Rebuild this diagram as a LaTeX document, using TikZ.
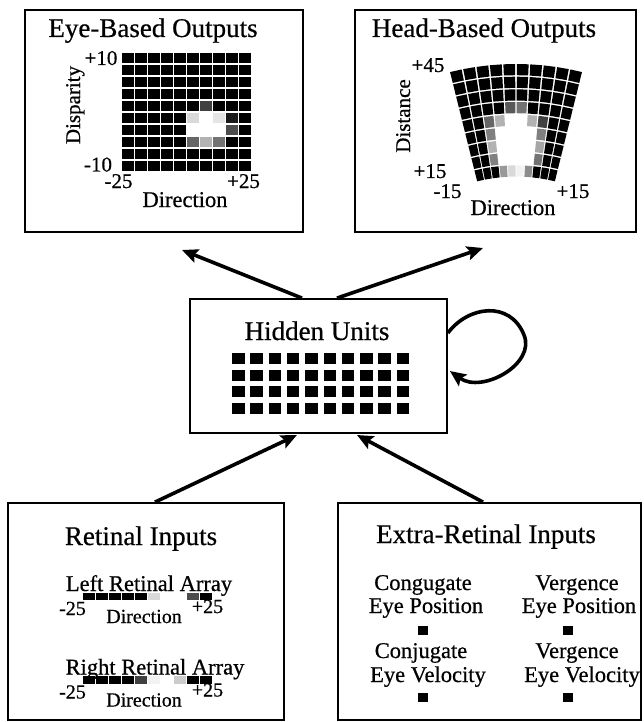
\documentclass[tikz,border=0pt]{standalone}
\usepackage{fontspec}
\setmainfont{Liberation Serif}[RawFeature={embolden=0.6}]
\usetikzlibrary{arrows.meta,calc}
\newcommand\setcell[4]{\expandafter\def\csname #1#2-#3\endcsname{#4}}
% eye-based grid grey levels (row-col, 0-based)
\setcell{eg}{4}{6}{75}
\setcell{eg}{5}{5}{15}\setcell{eg}{5}{6}{0}\setcell{eg}{5}{7}{10}\setcell{eg}{5}{8}{90}
\setcell{eg}{6}{5}{0}\setcell{eg}{6}{6}{0}\setcell{eg}{6}{7}{0}\setcell{eg}{6}{8}{70}
\setcell{eg}{7}{5}{60}\setcell{eg}{7}{6}{30}\setcell{eg}{7}{7}{55}
% head-based fan grey levels
\setcell{fg}{3}{4}{65}\setcell{fg}{3}{5}{55}
\setcell{fg}{4}{2}{60}\setcell{fg}{4}{3}{30}\setcell{fg}{4}{4}{0}\setcell{fg}{4}{5}{0}\setcell{fg}{4}{6}{30}\setcell{fg}{4}{7}{75}
\setcell{fg}{5}{2}{50}\setcell{fg}{5}{3}{0}\setcell{fg}{5}{4}{0}\setcell{fg}{5}{5}{0}\setcell{fg}{5}{6}{0}\setcell{fg}{5}{7}{50}
\setcell{fg}{6}{2}{30}\setcell{fg}{6}{3}{0}\setcell{fg}{6}{4}{0}\setcell{fg}{6}{5}{0}\setcell{fg}{6}{6}{0}\setcell{fg}{6}{7}{35}
\setcell{fg}{7}{2}{50}\setcell{fg}{7}{3}{0}\setcell{fg}{7}{4}{0}\setcell{fg}{7}{5}{0}\setcell{fg}{7}{6}{0}\setcell{fg}{7}{7}{55}
\setcell{fg}{8}{3}{40}\setcell{fg}{8}{4}{15}\setcell{fg}{8}{5}{5}\setcell{fg}{8}{6}{45}
% retinal arrays
\setcell{la}{0}{5}{15}\setcell{la}{0}{6}{0}\setcell{la}{0}{7}{0}\setcell{la}{0}{8}{70}
\setcell{la}{1}{4}{75}\setcell{la}{1}{5}{5}\setcell{la}{1}{6}{0}\setcell{la}{1}{7}{20}
\begin{document}
\begin{tikzpicture}[x=1pt,y=-1pt,
 box/.style={draw,line width=1.8pt,inner sep=0pt},
 ttl/.style={font=\fontsize{27}{27}\selectfont,anchor=base,inner sep=0pt},
 lbl/.style={font=\fontsize{22.5}{22.5}\selectfont,anchor=base,inner sep=0pt},
 tick/.style={font=\fontsize{21}{21}\selectfont,anchor=base,inner sep=0pt},
 rlbl/.style={font=\fontsize{21}{21}\selectfont,anchor=base,inner sep=0pt,rotate=90},
 sml/.style={font=\fontsize{20}{20}\selectfont,anchor=base,inner sep=0pt},
 arr/.style={line width=3.6pt,-{Stealth[length=16pt,width=14pt,inset=3pt]}}]
\useasboundingbox (0,0) rectangle (643,722);

% boxes
\node[box,minimum width=278pt,minimum height=222pt] (eye) at (164,121) {};
\node[box,minimum width=281pt,minimum height=222pt] (head) at (495.5,121) {};
\node[box,minimum width=257pt,minimum height=134pt] (hid) at (318.5,366) {};
\node[box,minimum width=276pt,minimum height=217pt] (ret) at (146,611.5) {};
\node[box,minimum width=303pt,minimum height=217pt] (extra) at (489.5,611.5) {};

% eye-based outputs
\node[ttl] (eyet) at (153,37) {Eye-Based Outputs};
\foreach \i in {0,...,9}{\foreach \j in {0,...,9}{
  \ifcsname eg\i-\j\endcsname\edef\mycol{black!\csname eg\i-\j\endcsname}\else\def\mycol{black}\fi
  \fill[\mycol] (122+\j*13,53+\i*12) rectangle ++(11.5,10.5);
}}
\node[tick] (ep10) at (101,65) {+10};
\node[tick] (em10) at (98,171.5) {-10};
\node[tick] (em25) at (118.5,188) {-25};
\node[tick] (ep25) at (243.5,188) {+25};
\node[lbl] (edir) at (185,207) {Direction};
\node[rlbl] (edisp) at (80,105) {Disparity};

% head-based outputs
\node[ttl] (headt) at (484,37) {Head-Based Outputs};
\begin{scope}[shift={(516,338)}]
\foreach \i in {0,...,8}{\foreach \j in {0,...,9}{
  \ifcsname fg\i-\j\endcsname\edef\mycol{black!\csname fg\i-\j\endcsname}\else\def\mycol{black}\fi
  \pgfmathsetmacro\myro{274-\i*12.67}
  \pgfmathsetmacro\myri{\myro-11.2}
  \pgfmathsetmacro\myaa{-104.1+\j*2.82+0.17}
  \pgfmathsetmacro\myab{\myaa+2.48}
  \fill[\mycol] (\myaa:\myri) -- (\myaa:\myro) -- (\myab:\myro) -- (\myab:\myri) -- cycle;
}}
\end{scope}
\node[tick] (hp45) at (428,72) {+45};
\node[tick] (hp15) at (430,178) {+15};
\node[tick] (hm15) at (447.5,198) {-15};
\node[tick] (hp15r) at (573,198) {+15};
\node[lbl] (hdir) at (513,215) {Direction};
\node[rlbl] (hdist) at (410,116) {Distance};

% hidden units
\node[ttl] (hidt) at (317,340) {Hidden Units};
\foreach \i in {0,...,3}{\foreach \j in {0,...,9}{
  \fill (232+\j*18.3,353+\i*16.7) rectangle ++(12.5,11);
}}

% retinal inputs
\node[ttl] (rett) at (141,545) {Retinal Inputs};
\node[lbl] (lra) at (149,591) {Left Retinal Array};
\node[lbl] (rra) at (155,674.5) {Right Retinal Array};
\foreach \k/\yy in {0/592.5,1/676}{\foreach \j in {0,...,9}{
  \ifcsname la\k-\j\endcsname\edef\mycol{black!\csname la\k-\j\endcsname}\else\def\mycol{black}\fi
  \fill[\mycol] (83+\j*13,\yy) rectangle ++(11.5,7.5);
}}
\node[sml] (lm25) at (72.5,615) {-25};
\node[sml] (ldir) at (144,623) {Direction};
\node[sml] (lp25) at (207.5,613) {+25};
\node[sml] (rm25) at (72.5,698.5) {-25};
\node[sml] (rdir) at (144,706.5) {Direction};
\node[sml] (rp25) at (207.5,696.5) {+25};

% extra-retinal inputs
\node[ttl] (extt) at (486,543) {Extra-Retinal Inputs};
\node[lbl] (cg1) at (423,590) {Congugate};
\node[lbl] (cg2) at (426,613) {Eye Position};
\node[lbl] (cj1) at (421,658) {Conjugate};
\node[lbl] (cj2) at (428,682) {Eye Velocity};
\node[lbl] (vg1) at (577,590) {Vergence};
\node[lbl] (vg2) at (579,613) {Eye Position};
\node[lbl] (vv1) at (577,658) {Vergence};
\node[lbl] (vv2) at (582,682) {Eye Velocity};
\fill (418,625.5) rectangle ++(9.5,9.5);
\fill (418,692.5) rectangle ++(9.5,9.5);
\fill (563,625.5) rectangle ++(9.5,9.5);
\fill (563,692.5) rectangle ++(9.5,9.5);

% connectors
\coordinate (eyetip) at (182,250);
\coordinate (headtip) at (483,248);
\coordinate (rettip) at (297,435);
\coordinate (exttip) at (357,435);
\draw[arr] ($(hid.north)+(-16.5,0)$) -- (eyetip);
\draw[arr] ($(hid.north)+(18.5,0)$) -- (headtip);
\draw[arr] ($(ret.north)+(9,0)$) -- (rettip);
\draw[arr] ($(extra.north)+(-6.5,0)$) -- (exttip);
\draw[arr] ($(hid.east)+(0,-33)$) .. controls (468,306) and (510,300) .. (524,335)
  .. controls (536,364) and (482,394) .. ($(hid.east)+(2,5)$);
\end{tikzpicture}
\end{document}
